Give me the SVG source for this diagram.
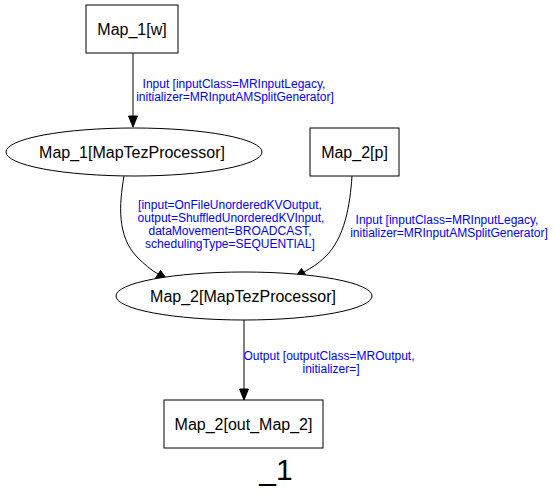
<svg xmlns="http://www.w3.org/2000/svg" width="555" height="499" viewBox="0 0 555 499">
<style>
.shape{fill:#fff;stroke:#000;stroke-width:1}
.nl{font-family:"Liberation Sans",Arial,sans-serif;font-size:16px;fill:#000;text-anchor:middle}
.el{font-family:"Liberation Sans",Arial,sans-serif;font-size:12px;fill:#0000ff;text-anchor:middle}
.edge{fill:none;stroke:#000;stroke-width:1}
.ah{fill:#000;stroke:#000;stroke-width:1}
</style>
<rect width="555" height="499" fill="#fff"/>
<g id="connectors">
  <g id="e1">
    <path class="edge" d="M133,53 L133,116"/>
    <polygon class="ah" points="128.5,116 137.5,116 133,127"/>
    <text class="el" x="234" y="88">Input [inputClass=MRInputLegacy,</text>
    <text class="el" x="235" y="101">initializer=MRInputAMSplitGenerator]</text>
  </g>
  <g id="e2">
    <path class="edge" d="M124,176 C119,205 117,236 137,257 C144,264 151,270 158,274"/>
    <polygon class="ah" points="155.5,278 160.5,270.5 168.5,281.5"/>
    <text class="el" x="230" y="209">[input=OnFileUnorderedKVOutput,</text>
    <text class="el" x="231" y="222">output=ShuffledUnorderedKVInput,</text>
    <text class="el" x="230" y="235">dataMovement=BROADCAST,</text>
    <text class="el" x="230" y="248">schedulingType=SEQUENTIAL]</text>
  </g>
  <g id="e3">
    <path class="edge" d="M352,176 C350,205 345,238 325,257 C318,264 311,268 304,272"/>
    <polygon class="ah" points="306.5,276 301.5,268.5 294,279"/>
    <text class="el" x="447" y="224">Input [inputClass=MRInputLegacy,</text>
    <text class="el" x="449" y="237">initializer=MRInputAMSplitGenerator]</text>
  </g>
  <g id="e4">
    <path class="edge" d="M244,320 L244,389"/>
    <polygon class="ah" points="239.5,389 248.5,389 244,400"/>
    <text class="el" x="329" y="360">Output [outputClass=MROutput,</text>
    <text class="el" x="331" y="373">initializer=]</text>
  </g>
</g>
<g id="map1w">
  <rect class="shape" x="86" y="5" width="92" height="48"/>
  <text class="nl" x="132" y="35">Map_1[w]</text>
</g>
<g id="map1proc">
  <ellipse class="shape" cx="134" cy="152" rx="128" ry="24"/>
  <text class="nl" x="132" y="158">Map_1[MapTezProcessor]</text>
</g>
<g id="map2p">
  <rect class="shape" x="310" y="128" width="89" height="48"/>
  <text class="nl" x="354.5" y="158">Map_2[p]</text>
</g>
<g id="map2proc">
  <ellipse class="shape" cx="244" cy="296" rx="128" ry="24"/>
  <text class="nl" x="243" y="302">Map_2[MapTezProcessor]</text>
</g>
<g id="map2out">
  <rect class="shape" x="164" y="400" width="159" height="48"/>
  <text class="nl" x="243.5" y="430">Map_2[out_Map_2]</text>
</g>
<text x="276" y="480" style="font-family:'Liberation Sans',Arial,sans-serif;font-size:30px;fill:#000;text-anchor:middle">_1</text>
</svg>
